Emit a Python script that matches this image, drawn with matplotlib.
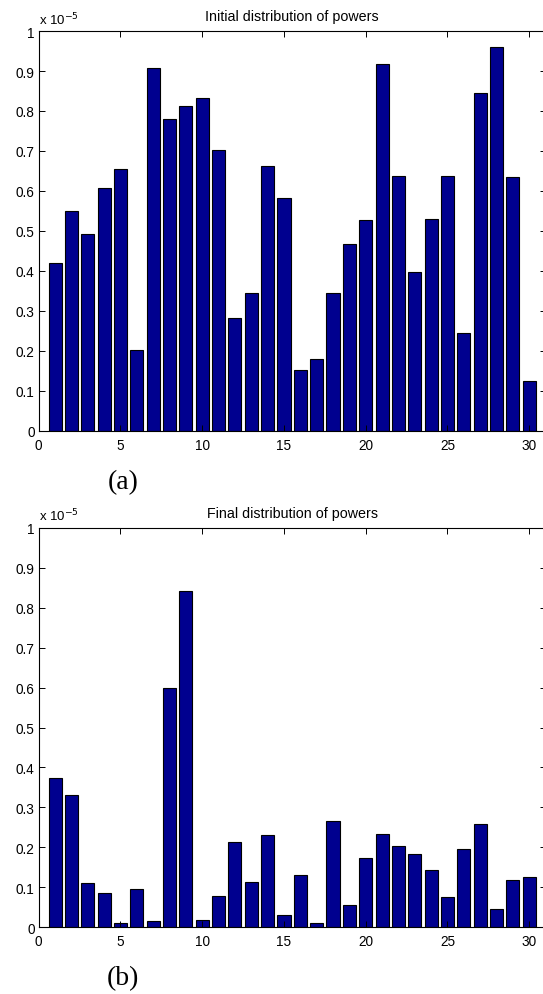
import numpy as np
import matplotlib
matplotlib.use('Agg')
import matplotlib.pyplot as plt
from matplotlib.ticker import FuncFormatter

plt.rcParams['font.family'] = ['Liberation Sans', 'DejaVu Sans']

# bar index 1..30, powers in units of 1e-5
users = np.arange(1, 31)
initial_powers = [0.420, 0.549, 0.492, 0.607, 0.655, 0.202, 0.908, 0.779, 0.812, 0.833,
                  0.703, 0.282, 0.346, 0.663, 0.583, 0.153, 0.179, 0.344, 0.468, 0.527,
                  0.917, 0.637, 0.397, 0.531, 0.637, 0.245, 0.846, 0.961, 0.636, 0.126]
final_powers = [0.374, 0.331, 0.112, 0.086, 0.012, 0.095, 0.016, 0.599, 0.842, 0.018,
                0.078, 0.213, 0.113, 0.232, 0.032, 0.132, 0.011, 0.267, 0.057, 0.173,
                0.233, 0.203, 0.183, 0.143, 0.076, 0.197, 0.259, 0.046, 0.118, 0.127]
titles = ['Initial distribution of powers', 'Final distribution of powers']
panel_labels = ['(a)', '(b)']

W, H = 543, 995
fig = plt.figure(figsize=(W / 100, H / 100), dpi=100)

x0, x1 = 38.7, 545.6
panels = [(32, 432), (528.7, 928.3)]
label_y = [483, 979]

for vals, title, lab, (ytop, ybot), ly in zip([initial_powers, final_powers], titles,
                                               panel_labels, panels, label_y):
    ax = fig.add_axes([x0 / W, 1 - ybot / H, (x1 - x0) / W, (ybot - ytop) / H])
    ax.bar(users, vals, width=0.8, color='#00008F', edgecolor='black', linewidth=0.8)
    ax.set_xlim(0, 31)
    ax.set_ylim(0, 1)
    ax.set_xticks(np.arange(0, 31, 5))
    ax.set_yticks(np.arange(0, 1.01, 0.1))
    ax.yaxis.set_major_formatter(FuncFormatter(lambda v, p: '%g' % round(v, 1)))
    ax.tick_params(direction='in', top=True, right=True, length=4, width=0.7,
                   labelsize=9.8)
    ax.tick_params(axis='x', pad=5)
    ax.tick_params(axis='y', pad=3)
    for s in ax.spines.values():
        s.set_linewidth(0.8)
    ax.set_title(title, fontsize=10.3, pad=8)
    ax.text(0.0, 1.0175, r'x 10$^{-5}$', transform=ax.transAxes, fontsize=9.5,
            ha='left', va='baseline')
    fig.text(123 / W, 1 - ly / H, lab, fontsize=20, family='Liberation Serif',
             ha='center', va='center')

fig.savefig('out.png', dpi=100)
